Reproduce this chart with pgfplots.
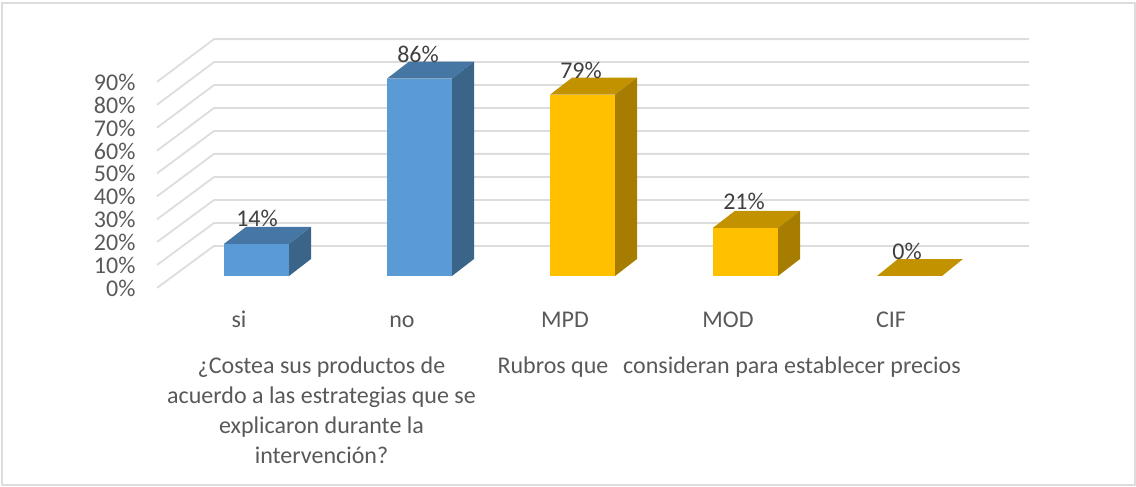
\documentclass[border=0pt]{standalone}
\usepackage{pgfplots}
\pgfplotsset{compat=1.18}
\usepackage{fontspec}
\setmainfont{Carlito}
\definecolor{gridc}{HTML}{DDDDDD}
\definecolor{tickc}{HTML}{595959}
\definecolor{labc}{HTML}{404040}
\definecolor{bluef}{HTML}{5B9BD5}
\definecolor{bluet}{HTML}{4677A4}
\definecolor{blues}{HTML}{3A6488}
\definecolor{goldf}{HTML}{FFC000}
\definecolor{goldt}{HTML}{C29200}
\definecolor{golds}{HTML}{A67D00}
\begin{document}
\begin{tikzpicture}
\begin{axis}[
  scale only axis, width=872pt, height=249pt,
  xmin=157, xmax=1029, ymin=-5.23, ymax=103.27,
  clip=false,
  axis line style={draw=none},
  tick style={draw=none},
  ytick={-5.2,4.8,14.8,24.7,34.7,44.7,54.6,64.6,74.6,84.6},
  yticklabels={0\%,10\%,20\%,30\%,40\%,50\%,60\%,70\%,80\%,90\%},
  xtick={257,420,583,746,909},
  xticklabels={si,no,MPD,MOD,CIF},
  y tick label style={font=\fontsize{24}{28}\selectfont, text=tickc, xshift=-18pt, yshift=-0.5pt},
  x tick label style={font=\fontsize{24}{28}\selectfont, text=tickc, text height=16pt, text depth=5pt, yshift=-20pt, xshift=-18pt},
  /pgf/number format/assume math mode=true,
]
% page extents and frame
\addplot[draw=none, forget plot] coordinates {(0,-91.94) (1136,120.26)};
\addplot[gridc, line width=2pt, forget plot] coordinates {(2,-91.2) (1135,-91.2) (1135,118.9) (2,118.9) (2,-91.2)};
% gridlines
\addplot[gridc, line width=1.8pt] coordinates {(157,-5.2) (214,13.1) (1029,13.1)};
\addplot[gridc, line width=1.8pt] coordinates {(157,4.8) (214,23.1) (1029,23.1)};
\addplot[gridc, line width=1.8pt] coordinates {(157,14.8) (214,33.1) (1029,33.1)};
\addplot[gridc, line width=1.8pt] coordinates {(157,24.7) (214,43.1) (1029,43.1)};
\addplot[gridc, line width=1.8pt] coordinates {(157,34.7) (214,53.2) (1029,53.2)};
\addplot[gridc, line width=1.8pt] coordinates {(157,44.7) (214,63.2) (1029,63.2)};
\addplot[gridc, line width=1.8pt] coordinates {(157,54.6) (214,73.2) (1029,73.2)};
\addplot[gridc, line width=1.8pt] coordinates {(157,64.6) (214,83.2) (1029,83.2)};
\addplot[gridc, line width=1.8pt] coordinates {(157,74.6) (214,93.2) (1029,93.2)};
\addplot[gridc, line width=1.8pt] coordinates {(157,84.6) (214,103.2) (1029,103.2)};
% si 14
\addplot[fill=bluef, draw=none] coordinates {(224,0) (289,0) (289,14) (224,14)} --cycle;
\addplot[fill=bluet, draw=none] coordinates {(224,14) (289,14) (311,21.4) (246,21.4)} --cycle;
\addplot[fill=blues, draw=none] coordinates {(289,0) (311,7.4) (311,21.4) (289,14)} --cycle;
% no 86
\addplot[fill=bluef, draw=none] coordinates {(387,0) (452,0) (452,86) (387,86)} --cycle;
\addplot[fill=bluet, draw=none] coordinates {(387,86) (452,86) (474,93.4) (409,93.4)} --cycle;
\addplot[fill=blues, draw=none] coordinates {(452,0) (474,7.4) (474,93.4) (452,86)} --cycle;
% MPD 79
\addplot[fill=goldf, draw=none] coordinates {(550,0) (615,0) (615,79) (550,79)} --cycle;
\addplot[fill=goldt, draw=none] coordinates {(550,79) (615,79) (637,86.4) (572,86.4)} --cycle;
\addplot[fill=golds, draw=none] coordinates {(615,0) (637,7.4) (637,86.4) (615,79)} --cycle;
% MOD 21
\addplot[fill=goldf, draw=none] coordinates {(713,0) (778,0) (778,21) (713,21)} --cycle;
\addplot[fill=goldt, draw=none] coordinates {(713,21) (778,21) (800,28.4) (735,28.4)} --cycle;
\addplot[fill=golds, draw=none] coordinates {(778,0) (800,7.4) (800,28.4) (778,21)} --cycle;
% CIF 0
\addplot[fill=goldt, draw=none] coordinates {(877,0) (942,0) (963,7.4) (898,7.4)} --cycle;
% data labels
\node[text=labc, font=\fontsize{24}{28}\selectfont] at (axis cs:257,25) {14\%};
\node[text=labc, font=\fontsize{24}{28}\selectfont] at (axis cs:418,96.7) {86\%};
\node[text=labc, font=\fontsize{24}{28}\selectfont] at (axis cs:581,89.7) {79\%};
\node[text=labc, font=\fontsize{24}{28}\selectfont] at (axis cs:744,32.7) {21\%};
\node[text=labc, font=\fontsize{24}{28}\selectfont] at (axis cs:907,10.9) {0\%};
% group labels
\node[text=tickc, font=\fontsize{24}{30}\selectfont, align=center, anchor=north] at (axis cs:321.5,-33.8) {¿Costea sus productos de\\acuerdo a las estrategias que se\\explicaron durante la\\intervención?};
\node[text=tickc, font=\fontsize{24}{30}\selectfont, anchor=north west] at (axis cs:494,-33.8) {Rubros que\ \ \,consideran para establecer precios};
\end{axis}
\end{tikzpicture}
\end{document}
